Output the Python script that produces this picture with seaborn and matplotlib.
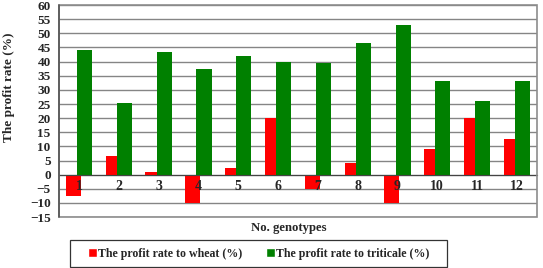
import pandas as pd
import seaborn as sns
import matplotlib.pyplot as plt
from matplotlib.patches import Rectangle, Patch

# data
genotypes = ['1', '2', '3', '4', '5', '6', '7', '8', '9', '10', '11', '12']
wheat = [-7.5, 6.5, 1, -10, 2.5, 20, -5, 4, -10, 9, 20, 12.8]
triticale = [44, 25.5, 43.5, 37.3, 42, 40, 39.5, 46.5, 53, 33.3, 26, 33.3]
series_names = ['The profit rate to wheat (%)', 'The profit rate to triticale (%)']
colors = ['#ff0000', '#008000']

df = pd.DataFrame({
    'genotype': genotypes * 2,
    'value': wheat + triticale,
    'series': [series_names[0]] * len(genotypes) + [series_names[1]] * len(genotypes),
})

sns.set_style('white')
plt.rcParams['font.family'] = ['Liberation Serif', 'DejaVu Serif']
plt.rcParams['font.weight'] = 'bold'

fig = plt.figure(figsize=(5.43, 2.68), dpi=100)
ax = fig.add_axes([0.1087, 0.190, 0.880, 0.791])

sns.barplot(data=df, x='genotype', y='value', hue='series', palette=colors,
            saturation=1, width=0.56, ax=ax, legend=False, linewidth=0)

# bars overlap a little in the original
for p in ax.patches:
    c = p.get_x() + p.get_width() / 2
    p.set_width(0.38)
    p.set_x(c - 0.19)
    p.set_zorder(2)

ax.set_ylim(-15, 60)
ax.set_xlim(-0.5, 11.5)
ax.set_yticks(range(-15, 61, 5))
ax.yaxis.grid(True, color='#858585', linewidth=1)
ax.set_axisbelow(True)
ax.xaxis.set_zorder(6)  # numbers sit over the bars

for s in ['top', 'right', 'left']:
    ax.spines[s].set_visible(False)
ax.spines['bottom'].set_position(('data', 0))
ax.spines['bottom'].set_color('#444444')
ax.spines['bottom'].set_zorder(4)
ax.add_patch(Rectangle((0, 0), 1, 1, transform=ax.transAxes, fill=False,
                       edgecolor='#8c8c8c', linewidth=1.2, zorder=5, clip_on=False))
ax.plot([0, 0], [0, 1], transform=ax.transAxes, color='#555555', linewidth=1.2,
        zorder=6, clip_on=False)

ax.tick_params(axis='x', which='major', length=0, pad=4, labelsize=10)
ax.set_xticks([i + 0.5 for i in range(11)], minor=True)
ax.tick_params(axis='x', which='minor', length=3, direction='out', color='#444444')
ax.tick_params(axis='y', length=3, direction='out', labelsize=9.5, pad=3, color='#555555')
for lab in ax.get_xticklabels() + ax.get_yticklabels():
    lab.set_fontweight('bold')

ax.set_ylabel('The profit rate (%)', fontsize=9.5, fontweight='bold')
ax.yaxis.set_label_coords(-0.092, 0.613)
ax.set_xlabel('No. genotypes', fontsize=9.2, fontweight='bold')
ax.xaxis.set_label_coords(0.48, -0.025)

# legend box
fig.patches.append(Rectangle((70 / 543, 1 / 268), 377 / 543, 27 / 268, transform=fig.transFigure,
                             fill=False, edgecolor='#333333', linewidth=0.9))
handles = [Patch(facecolor=colors[0], label=series_names[0]),
           Patch(facecolor=colors[1], label=series_names[1])]
fig.legend(handles=handles, loc='center', bbox_to_anchor=(258.5 / 543, 1 - 253.5 / 268), ncol=2,
           frameon=False, prop={'size': 8.6, 'weight': 'bold'}, handlelength=0.75,
           handleheight=0.75, handletextpad=0.1, columnspacing=2.0, borderpad=0.3)

fig.savefig('out.png', dpi=100)
